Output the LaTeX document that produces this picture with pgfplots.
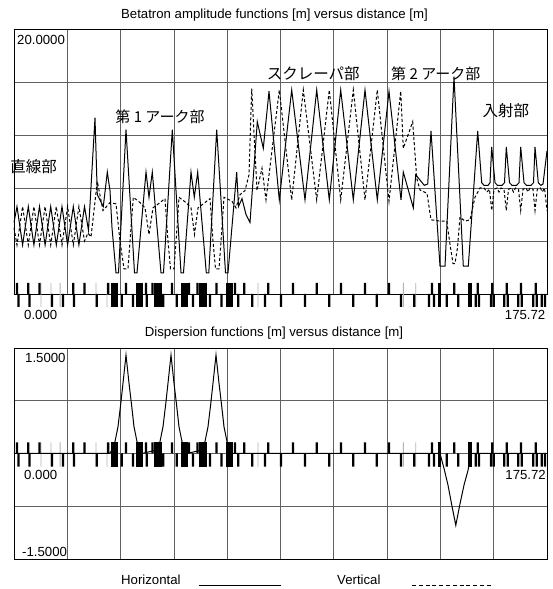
\documentclass[border=0pt]{standalone}
\usepackage{pgfplots}
\usepackage{pgfplotstable}
\pgfplotsset{compat=1.18}
\usepackage{fontspec}
\setmainfont{Liberation Sans}
\newfontfamily\jp{Noto Sans CJK JP}

\pgfplotstableread{
s bx
0 5.4
0.989 6.6
2.835 3.7
4.714 6.6
6.561 3.7
8.407 6.6
10.253 3.7
12.099 6.6
13.946 3.7
15.825 6.6
17.671 3.7
19.550 6.6
21.396 3.7
23.243 6.6
24.561 4.8
26.704 13.3
27.462 7.5
29.440 6.6
30.759 9.2
31.649 7.8
32.309 5.0
33.627 1.6
34.451 1.6
36.924 12.4
39.727 1.6
40.551 1.6
43.518 9.2
44.506 7.3
45.594 9.2
48.463 1.6
49.287 1.6
52.189 12.4
55.057 1.6
55.881 1.6
58.354 9.2
59.442 7.3
60.563 9.2
63.398 1.6
64.222 1.6
66.827 12.4
69.728 1.6
70.552 1.6
73.420 9.2
74.014 6.6
75.167 7.2
76.486 6.0
77.805 5.4
80.211 13.0
82.189 11.0
84.069 15.3
87.464 7.1
91.553 15.4
95.937 7.1
99.795 15.4
103.949 7.1
107.707 15.4
111.861 7.1
115.718 15.4
119.773 7.1
123.630 15.3
127.587 7.1
128.345 9.2
131.642 6.5
132.433 9.0
135.268 8.2
136.389 8.3
137.477 12.3
140.444 2.1
142.093 2.1
145.060 16.4
148.126 2.1
149.774 2.1
152.873 12.3
154.192 8.4
154.950 8.2
156.269 8.2
156.928 8.4
157.489 11.1
158.577 8.4
159.401 8.2
160.885 8.2
161.709 8.4
162.302 11.1
163.357 8.4
164.181 8.2
165.665 8.2
166.490 8.4
167.050 11.1
168.138 8.4
168.962 8.2
170.446 8.2
171.270 8.4
171.764 11.1
172.852 8.4
173.677 8.2
174.402 8.3
175.72 10.8
}\betax

\pgfplotstableread{
s by
0 5.0
0.989 3.7
2.835 6.6
4.714 3.7
6.561 6.6
8.407 3.7
10.253 6.6
12.099 3.7
13.946 6.6
15.825 3.7
17.671 6.6
19.550 3.7
21.396 6.6
23.243 4.0
24.396 4.6
25.385 4.3
27.462 8.5
29.341 6.3
31.649 6.9
33.627 6.8
34.946 4.0
36.265 1.9
37.583 1.9
38.572 5.0
39.331 7.3
41.540 6.9
43.188 6.5
44.506 4.5
45.825 6.5
48.133 6.9
49.781 7.2
50.771 4.0
51.595 1.9
52.749 1.9
53.738 5.0
54.397 7.3
56.705 6.9
58.354 6.5
59.508 4.5
60.661 6.5
62.969 6.9
64.617 7.2
65.606 4.0
66.431 1.9
67.585 1.9
68.574 5.0
69.233 7.3
71.870 7.0
73.189 6.5
74.507 7.5
76.156 7.8
77.475 9.0
78.365 15.5
80.112 7.8
81.761 9.5
83.080 7.1
87.464 15.4
91.553 7.1
95.377 15.4
99.795 7.1
103.949 15.4
107.707 7.1
111.861 15.4
115.718 7.1
119.773 15.4
123.630 7.0
127.488 15.3
128.345 11.0
131.444 13.0
132.762 8.75
133.850 7.85
136.158 7.6
137.477 5.6
140.444 5.5
142.653 5.5
143.906 3.5
144.730 2.3
145.389 2.3
146.213 3.5
147.037 5.8
148.685 5.5
150.333 5.6
151.981 7.3
153.630 8.0
154.949 8.0
155.939 7.7
156.763 7.9
157.489 6.3
158.245 7.9
159.234 8.0
159.894 7.7
160.553 8.0
161.542 7.9
162.302 6.3
163.027 7.9
164.016 8.0
164.676 7.7
165.335 8.0
166.324 7.9
167.050 6.3
167.808 7.9
168.797 8.0
169.456 7.7
170.116 8.0
171.105 7.9
171.764 6.3
172.523 7.9
173.512 8.0
174.171 7.7
174.896 8.0
175.72 6.3
}\betay

\pgfplotstableread{
s d
0 0
31.5 0
32.309 0.05
33.298 0.17
34.287 0.38
35.177 0.7
35.935 1.0
36.924 1.4
37.913 1.0
38.738 0.7
39.562 0.38
40.551 0.17
41.540 0.05
42.199 0
47.145 0.05
48.134 0.17
49.123 0.38
50.013 0.7
50.771 1.0
51.760 1.4
52.749 1.0
53.574 0.7
54.398 0.38
55.387 0.17
56.376 0.05
57.035 0
61.980 0.05
62.969 0.17
63.958 0.38
64.848 0.7
65.606 1.0
66.595 1.4
67.584 1.0
68.409 0.7
69.233 0.38
70.222 0.17
71.211 0.05
71.870 0
140.444 0
141.928 -0.24
143.082 -0.45
144.400 -0.75
145.653 -1.02
146.873 -0.75
148.356 -0.45
149.675 -0.24
150.664 0
175.72 0
}\disp

% lattice: focusing (above), defocusing (below), other (grey); k = 1
\pgfplotstableread{
s k
0.989 1
4.714 1
8.407 1
19.550 1
23.243 1
31.089 1
36.924 1
43.518 1
45.661 1
52.090 1
57.694 1
60.497 1
66.760 1
72.859 1
75.926 1
83.838 1
91.981 1
99.795 1
107.806 1
115.718 1
123.630 1
137.807 1
145.159 1
152.873 1
157.686 1
162.434 1
167.148 1
171.995 1
}\qf
\pgfplotstableread{
s k
1.484 1
5.110 1
12.528 1
16.154 1
19.781 1
27.265 1
35.507 1
39.232 1
43.749 1
49.221 1
53.639 1
59.013 1
64.617 1
68.409 1
73.948 1
78.563 1
82.750 1
88.025 1
95.937 1
103.949 1
111.861 1
119.575 1
127.587 1
131.971 1
136.818 1
138.466 1
142.653 1
146.477 1
152.214 1
153.302 1
157.258 1
158.148 1
161.643 1
162.763 1
166.258 1
167.379 1
171.204 1
172.325 1
173.973 1
175.061 1
}\qd
\pgfplotstableread{
s k
8.901 1
12.198 1
15.2 1
27.034 1
30.660 1
80.442 1
128.345 1
132.433 1
}\qo

\newcommand\bendT[2]{\addplot[fill=black,draw=none] coordinates {(#1,-0.98) (#2,-0.98) (#2,0.83) (#1,0.83)};}
\newcommand\bendB[2]{\addplot[fill=black,draw=none] coordinates {(#1,-0.185) (#2,-0.185) (#2,0.157) (#1,0.157)};}

\pgfplotsset{
  frame/.style={
    scale only axis, width=533pt, xmin=0, xmax=175.72,
    xtick={0,17.572,35.144,52.716,70.288,87.86,105.432,123.004,140.576,158.148,175.72},
    xticklabels={}, yticklabels={}, major tick length=0pt,
    grid=major, major grid style={black!62, line width=0.8pt},
    axis line style={black, line width=0.9pt}, clip=false,
  },
  tickF/.style={ybar, bar shift=0pt, bar width=2.2pt, fill=black, draw=none},
  tickO/.style={ybar, bar shift=0pt, bar width=0.9pt, fill=black!30, draw=none},
}

\begin{document}
\begin{tikzpicture}
\useasboundingbox (0pt,0pt) rectangle (552pt,589pt);
\fontsize{13.2}{15}\selectfont

\begin{axis}[frame, at={(14pt,295pt)}, anchor=south west, height=265pt,
  ymin=0, ymax=20, ytick={0,4,8,12,16,20}]
  \addplot[tickO] table[x=s, y expr=0.83*\thisrow{k}] {\qo};
  \addplot[tickO] table[x=s, y expr=-0.98*\thisrow{k}] {\qo};
  \addplot[tickF] table[x=s, y expr=0.83*\thisrow{k}] {\qf};
  \addplot[tickF] table[x=s, y expr=-0.98*\thisrow{k}] {\qd};
  \bendT{31.95}{34.45}
  \bendT{40.15}{42.40}
  \bendT{46.20}{48.75}
  \bendT{55.00}{57.25}
  \bendT{61.05}{63.65}
  \bendT{69.85}{72.05}
  \bendT{139.70}{140.75}
  \bendT{149.80}{150.85}
  \addplot[black, line width=1pt, dash pattern=on 3pt off 2.2pt] table[x=s,y=by] {\betay};
  \addplot[black, line width=1pt] table[x=s,y=bx] {\betax};
\end{axis}

\begin{axis}[frame, at={(14pt,30pt)}, anchor=south west, height=211pt,
  ymin=-1.5, ymax=1.5, ytick={-1.5,-0.75,0,0.75,1.5}]
  \addplot[tickO] table[x=s, y expr=0.157*\thisrow{k}] {\qo};
  \addplot[tickO] table[x=s, y expr=-0.185*\thisrow{k}] {\qo};
  \addplot[tickF] table[x=s, y expr=0.157*\thisrow{k}] {\qf};
  \addplot[tickF] table[x=s, y expr=-0.185*\thisrow{k}] {\qd};
  \bendB{31.95}{34.45}
  \bendB{40.15}{42.40}
  \bendB{46.20}{48.75}
  \bendB{55.00}{57.25}
  \bendB{61.05}{63.65}
  \bendB{69.85}{72.05}
  \bendB{139.70}{140.75}
  \bendB{149.80}{150.85}
  \addplot[black, line width=1pt] table[x=s,y=d] {\disp};
\end{axis}

% titles and labels
\node[anchor=base, inner sep=0pt] at (274.5pt,570.7pt) {Betatron amplitude functions [m] versus distance [m]};
\node[anchor=base, inner sep=0pt] at (274pt,252pt) {Dispersion functions [m] versus distance [m]};
\node[anchor=base west, inner sep=0pt] at (17pt,544pt) {20.0000};
\node[anchor=base west, inner sep=0pt] at (24pt,269.5pt) {0.000};
\node[anchor=base east, inner sep=0pt] at (545.5pt,269.5pt) {175.72};
\node[anchor=base west, inner sep=0pt] at (25pt,226pt) {1.5000};
\node[anchor=base west, inner sep=0pt] at (24pt,109pt) {0.000};
\node[anchor=base east, inner sep=0pt] at (546pt,109pt) {175.72};
\node[anchor=base west, inner sep=0pt] at (22pt,32pt) {-1.5000};

\node[inner sep=0pt] at (33.5pt,422.3pt) {\jp\fontsize{15.5}{17}\selectfont 直線部};
\node[inner sep=0pt] at (160pt,472.7pt) {\jp\fontsize{15}{17}\selectfont 第 1 アーク部};
\node[inner sep=0pt] at (313.3pt,515pt) {\jp\fontsize{15.5}{17}\selectfont スクレーパ部};
\node[inner sep=0pt] at (435.8pt,515pt) {\jp\fontsize{15}{17}\selectfont 第 2 アーク部};
\node[inner sep=0pt] at (505.8pt,478pt) {\jp\fontsize{15.5}{17}\selectfont 入射部};

% legend
\node[anchor=base west, inner sep=0pt] at (121pt,4pt) {Horizontal};
\draw[black, line width=1pt] (199pt,3pt) -- (281pt,3pt);
\node[anchor=base west, inner sep=0pt] at (337pt,4pt) {Vertical};
\draw[black, line width=1pt, dash pattern=on 4pt off 2.8pt] (412pt,3pt) -- (493pt,3pt);
\end{tikzpicture}
\end{document}
